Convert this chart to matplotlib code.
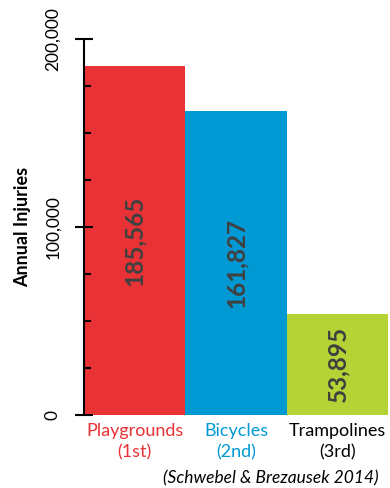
import matplotlib.pyplot as plt
from matplotlib.ticker import MultipleLocator, FuncFormatter

categories = ["Playgrounds\n(1st)", "Bicycles\n(2nd)", "Trampolines\n(3rd)"]
injuries = [185565, 161827, 53895]
bar_colors = ["#E93235", "#0099D4", "#B5D334"]
label_colors = ["#E93235", "#0099D4", "#000000"]

plt.rcParams['font.family'] = ['Lato', 'DejaVu Sans']

fig = plt.figure(figsize=(3.9, 4.88), dpi=100)
ax = fig.add_axes([0.215, 0.1496, 0.78, 0.7705])

x = range(len(categories))
ax.bar(x, injuries, width=1.0, color=bar_colors)

# value labels inside bars
for i, v in enumerate(injuries):
    ax.text(i, v / 2, f"{v:,}", rotation=90, ha='center', va='center',
            fontsize=17.5, fontweight='bold', color='#404040')

ax.set_xlim(-0.5, 2.5)
ax.set_ylim(0, 200000)

for s in ['top', 'right', 'bottom']:
    ax.spines[s].set_visible(False)
ax.spines['left'].set_linewidth(1.5)

ax.yaxis.set_major_locator(MultipleLocator(100000))
ax.yaxis.set_minor_locator(MultipleLocator(25000))
ax.yaxis.set_major_formatter(FuncFormatter(lambda v, p: f"{int(v):,}"))
ax.tick_params(axis='y', which='major', direction='inout', length=13, width=1.5,
               labelsize=12.5, pad=10)
ax.tick_params(axis='y', which='minor', direction='in', length=5, width=1.5)
for lbl in ax.get_yticklabels():
    lbl.set_rotation(90)
    lbl.set_va('center')

ax.set_xticks(list(x))
ax.set_xticklabels(categories, fontsize=13, linespacing=1.4)
ax.tick_params(axis='x', length=0, pad=6)
for lbl, c in zip(ax.get_xticklabels(), label_colors):
    lbl.set_color(c)

ax.set_ylabel("Annual Injuries", fontsize=13, fontweight='bold', labelpad=10)

fig.text(0.97, 0.004, "(Schwebel & Brezausek 2014)", ha='right', va='bottom',
         fontsize=12.5, style='italic')

fig.savefig("out.png", dpi=100)
